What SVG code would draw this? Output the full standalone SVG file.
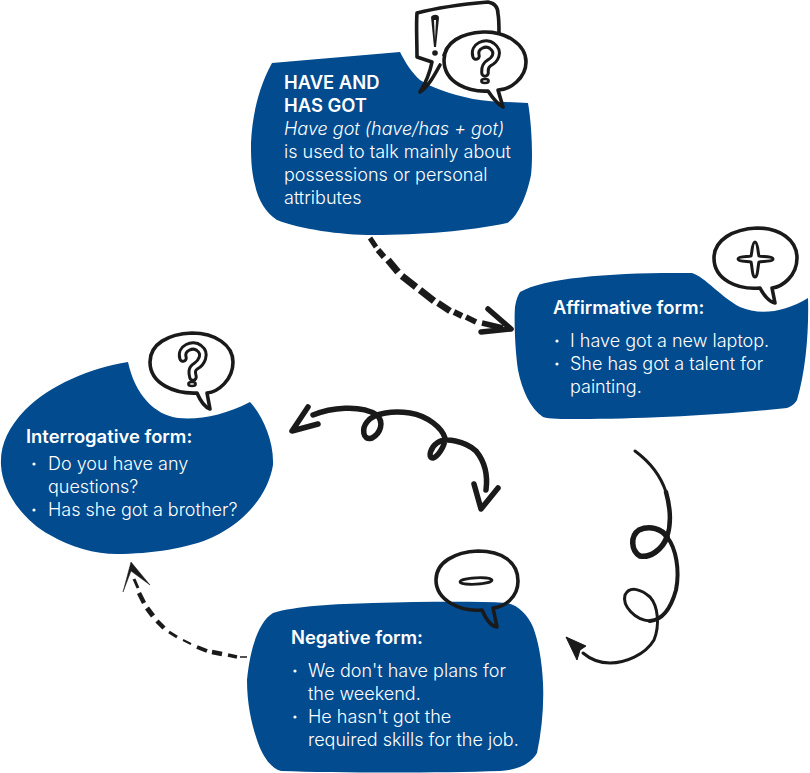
<svg xmlns="http://www.w3.org/2000/svg" width="810" height="773" viewBox="0 0 810 773">
<style>
.blob{fill:#024b8f}
.t{font-family:"Inter","Noto Sans","Liberation Sans",sans-serif;font-size:18px;fill:#fff;font-weight:300}
.b{font-weight:600;font-size:18.4px}
.i{font-style:italic}
.bub{fill:none;stroke:#1a1a1a;stroke-width:3.6;stroke-linejoin:round;stroke-linecap:round}
.qo{fill:none;stroke:#1a1a1a;stroke-width:9.5;stroke-linecap:round}
.qi{fill:none;stroke:#fff;stroke-width:3.5;stroke-linecap:round}
.c{fill:none;stroke:#1a1a1a;stroke-linecap:round;stroke-linejoin:round}
.d{fill:none;stroke:#1a1a1a;stroke-linecap:butt}
.h{fill:#1a1a1a;stroke:#1a1a1a;stroke-linejoin:round}
</style>
<g id="connectors">
<path class="d" stroke-width="5" d="M370,238L376,247"/>
<path class="d" stroke-width="6" d="M378,250L384,257"/>
<path class="d" stroke-width="7" d="M388,260L398,272"/>
<path class="d" stroke-width="7" d="M402,276L416,287"/>
<path class="d" stroke-width="7" d="M420,290L434,301"/>
<path class="d" stroke-width="6.5" d="M438,303L450,311"/>
<path class="d" stroke-width="6" d="M454,312L462,316"/>
<path class="d" stroke-width="5.5" d="M466,317L476,322"/>
<path class="d" stroke-width="5.5" d="M482,323L503,328"/>
<path class="c" stroke-width="5.5" d="M488,309L511,329L481,332"/>
<path class="c" stroke-width="5.5" d="M313,415C330,408 360,404 377,415C384,422 381,433 372,438C362,441 362,428 367,422C374,412 395,411 410,413C428,416 442,428 445,438C445,447 437,457 433,458C427,458 431,447 437,443C445,437 465,441 476,451C485,462 488,475 486,490"/>
<path class="c" stroke-width="5.5" d="M308,407L292,431L318,424"/>
<path class="c" stroke-width="5.5" d="M474,484L481,509L498,488"/>
<path class="c" stroke-width="3" d="M635,451C650,462 661,477 666,492"/>
<path class="c" stroke-width="4.5" d="M666,492C671,510 671,525 667,537"/>
<path class="c" stroke-width="5.5" d="M667,537C662,550 650,558 640,556C631,551 630,536 639,530C650,525 662,529 667,537"/>
<path class="c" stroke-width="4" d="M667,537C676,548 680,570 676,590C671,608 662,620 650,621"/>
<path class="c" stroke-width="3" d="M650,621C635,620 622,606 625,595C630,585 642,590 650,597C658,606 660,625 654,640C645,655 625,663 610,663C600,663 590,659 583,653"/>
<path class="h" d="M566,637L586,646L580,650L577,660Z"/>
<path class="d" stroke-width="1.5" d="M247,657L240,657"/>
<path class="d" stroke-width="3.5" d="M228,655L237,657"/>
<path class="d" stroke-width="4.5" d="M212,652L222,654"/>
<path class="d" stroke-width="4" d="M197,647L207,651"/>
<path class="d" stroke-width="2" d="M183,640L191,644"/>
<path class="d" stroke-width="3" d="M169,632L177,637"/>
<path class="d" stroke-width="4.5" d="M157,621L164,628"/>
<path class="d" stroke-width="5" d="M147,608L153,616"/>
<path class="d" stroke-width="4.5" d="M139,593L144,603"/>
<path class="d" stroke-width="3" d="M134,579L138,588"/>
<path class="h" stroke-width="0.5" d="M131,562L123,592L131,571L150,585Z"/>
</g>
<g id="node-have">
<path class="blob" d="M272,63L400,52C405,62 412,73 420,80C430,87 450,94 473,99C490,102 510,102 528,103C532,125 533,160 531,175C527,195 518,217 507,223C470,231 420,235 373,235C340,235 300,229 277,220C266,213 258,200 255,185C251,170 251,155 251,143C252,120 257,90 272,63Z"/>
<path class="bub" d="M444,55C447,48 470,44 499,34C499,24 499,18 498,14C498,6 494,3 488,2C465,4 440,7 417,13C416,25 417,40 417,57L432,62C430,72 425,84 420,92C428,87 434,76 440,65" style="stroke-dasharray:none"/>
<path class="bub" d="M444,60C444,42 462,33 483,32C505,31 526,44 526,62C526,78 510,90 498,90L503,107C497,104 492,97 488,91C470,92 444,84 444,60Z" fill="#fff" style="fill:#fff"/>
<path fill="#1a1a1a" d="M431,17C433,14 439,14 439,18L436,47L434,47Z"/>
<path fill="#fff" d="M434,20L436,20L435,40Z"/>
<circle cx="435" cy="53" r="2.8" fill="#1a1a1a"/>
<path class="qo" d="M476,56C473,46 486,41 492,46C500,52 495,60 489,63C484,66 485,70 485,73"/>
<path class="qi" d="M476,56C473,46 486,41 492,46C500,52 495,60 489,63C484,66 485,70 485,73"/>
<ellipse cx="485" cy="81" rx="3.6" ry="2" fill="#fff" stroke="#1a1a1a" stroke-width="2.6"/>
<text class="t b" x="284" y="89">HAVE AND</text>
<text class="t b" x="284" y="112">HAS GOT</text>
<text class="t i" x="284" y="135">Have got (have/has + got)</text>
<text class="t" x="284" y="158">is used to talk mainly about</text>
<text class="t" x="284" y="181">possessions or personal</text>
<text class="t" x="284" y="204">attributes</text>
</g>
<g id="node-affirmative">
<path class="blob" d="M520,292C545,277 620,272 692,273C705,277 722,298 740,307C760,316 785,312 808,298C809,330 806,370 797,400C794,405 790,407 787,408C720,415 640,419 580,419C560,419 550,419 543,417C530,408 522,390 518,370C515,350 514,320 515,307C516,300 518,295 520,292Z"/>
<path class="bub" d="M714,258C714,240 733,229 757,228C780,228 797,240 797,258C797,276 782,287 772,288L775,303C769,302 763,294 760,288C738,290 714,280 714,258Z"/>
<path fill="none" stroke="#1a1a1a" stroke-width="3" stroke-linejoin="round" d="M755,242C758,242 758,254 759,256C761,257 773,256 773,259C773,262 761,261 759,262C758,264 758,277 755,277C752,277 752,264 751,262C749,261 738,262 738,259C738,256 749,257 751,256C752,254 752,242 755,242Z"/>
<text class="t b" x="553" y="314">Affirmative form:</text>
<circle cx="557" cy="341" r="1.6" fill="#fff"/>
<circle cx="557" cy="364" r="1.6" fill="#fff"/>
<text class="t" x="570" y="347">I have got a new laptop.</text>
<text class="t" x="570" y="370">She has got a talent for</text>
<text class="t" x="570" y="393">painting.</text>
</g>
<g id="node-interrogative">
<path class="blob" d="M128,362C90,368 50,385 25,410C8,428 0,445 1,465C2,490 22,520 50,535C70,547 95,554 117,554C150,554 190,548 213,537C245,522 268,495 273,465C274,440 262,415 250,402C225,415 200,420 178,418C155,415 135,395 128,362Z"/>
<path class="bub" d="M150,362C150,344 168,334 192,333C215,333 233,345 233,362C233,380 218,392 207,393L210,409C204,407 200,400 197,393C175,394 150,384 150,362Z"/>
<path class="qo" d="M183,358C180,348 193,343 199,348C207,354 201,363 196,366C191,369 192,373 193,377"/>
<path class="qi" d="M183,358C180,348 193,343 199,348C207,354 201,363 196,366C191,369 192,373 193,377"/>
<ellipse cx="192" cy="384" rx="3.6" ry="2" fill="#fff" stroke="#1a1a1a" stroke-width="2.6"/>
<text class="t b" x="26" y="443">Interrogative form:</text>
<circle cx="34" cy="464" r="1.6" fill="#fff"/>
<circle cx="34" cy="510" r="1.6" fill="#fff"/>
<text class="t" x="48" y="470">Do you have any</text>
<text class="t" x="48" y="493">questions?</text>
<text class="t" x="48" y="516">Has she got a brother?</text>
</g>
<g id="node-negative">
<path class="blob" d="M373,603C335,604 295,606 273,613C258,622 250,650 247,680C247,705 252,725 257,740C262,755 270,768 281,771C340,773 440,773 500,771C520,770 532,762 537,753C542,730 544,705 543,683C542,660 538,640 533,627C528,615 518,605 507,603C470,601 420,602 373,603Z"/>
<path class="bub" d="M436,580C436,562 455,552 478,551C502,551 518,562 518,581C518,598 504,607 493,608L497,627C490,626 485,617 482,610C460,612 436,600 436,580Z"/>
<ellipse cx="476" cy="581" rx="16" ry="3.2" transform="rotate(-3 476 581)" fill="#fff" stroke="#1a1a1a" stroke-width="2.8"/>
<text class="t b" x="291" y="644">Negative form:</text>
<circle cx="295" cy="671" r="1.6" fill="#fff"/>
<circle cx="295" cy="717" r="1.6" fill="#fff"/>
<text class="t" x="308" y="677">We don't have plans for</text>
<text class="t" x="308" y="700">the weekend.</text>
<text class="t" x="308" y="723">He hasn't got the</text>
<text class="t" x="308" y="746">required skills for the job.</text>
</g>
</svg>
